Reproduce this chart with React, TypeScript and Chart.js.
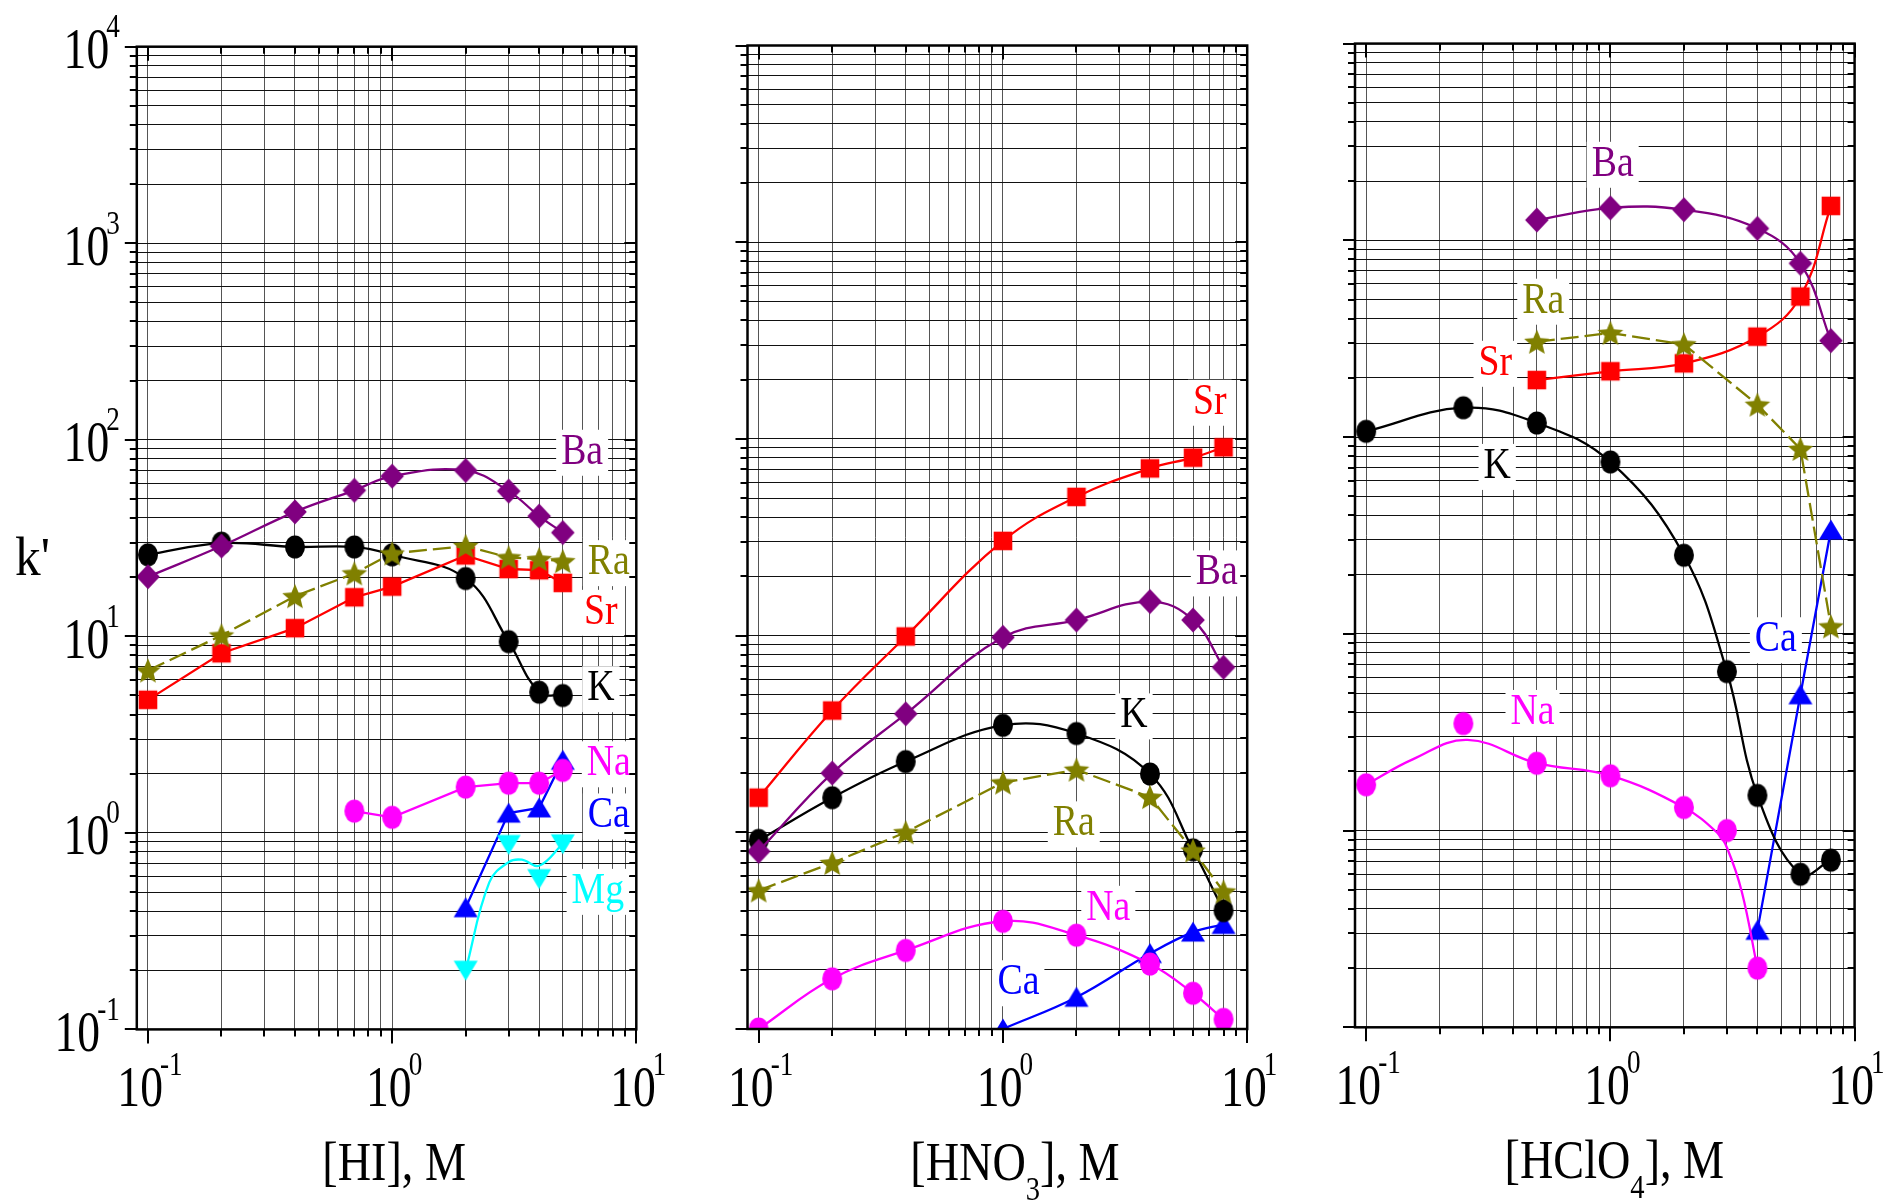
import React, { useEffect, useRef } from 'react';
import { Chart, registerables } from 'chart.js';

Chart.register(...registerables);

const W = 1889;
const H = 1202;

// ---------------- data : [HI] panel ----------------
const HI_X = [0.1, 0.2, 0.4, 0.7, 1, 2, 3, 4, 5];
const HI_BA = [20.1, 28.8, 43, 55.3, 65.3, 69.8, 54.8, 40.9, 33.7];
const HI_RA = [6.7, 10.1, 16.0, 20.9, 26.4, 28.8, 25.2, 24.7, 24.1];
const HI_SR = [4.75, 8.2, 11.0, 15.8, 17.9, 25.8, 22.0, 21.7, 18.7];
const HI_K = [26, 29.8, 28.5, 28.5, 26, 19.7, 9.4, 5.2, 5.0];
const HI_NA_X = [0.7, 1, 2, 3, 4, 5];
const HI_NA = [1.29, 1.2, 1.71, 1.79, 1.79, 2.08];
const HI_CA_X = [2, 3, 4, 5];
const HI_CA = [0.416, 1.26, 1.34, 2.34];
const HI_MG_X = [2, 3, 4, 5];
const HI_MG = [0.2, 0.873, 0.585, 0.88];
const HI_MG_FIT_X = [2, 2.5, 3, 3.4, 4, 5];
const HI_MG_FIT = [0.2, 0.56, 0.71, 0.73, 0.68, 0.88];
const HI_LABELS = ['Ba', 'Ra', 'Sr', 'K', 'Na', 'Ca', 'Mg'];
const HI_LABEL_X = [6.0, 7.72, 7.16, 7.16, 7.72, 7.72, 6.96];
const HI_LABEL_Y = [90, 24.7, 13.8, 5.64, 2.34, 1.27, 0.525];

// ---------------- data : [HNO3] panel ----------------
const NO3_X = [0.1, 0.2, 0.4, 1, 2, 4, 6, 8];
const NO3_SR = [1.5, 4.16, 9.9, 30.3, 50.7, 70.8, 80.3, 90.6];
const NO3_BA = [0.8, 2.0, 4.0, 9.8, 12.0, 14.9, 12.0, 6.9];
const NO3_K = [0.91, 1.5, 2.29, 3.5, 3.18, 1.98, 0.815, 0.4];
const NO3_RA = [0.506, 0.698, 1.0, 1.79, 2.08, 1.51, 0.807, 0.5];
const NO3_NA = [0.1, 0.18, 0.251, 0.353, 0.3, 0.214, 0.152, 0.112];
const NO3_CA_X = [1, 2, 4, 6, 8];
const NO3_CA = [0.1, 0.145, 0.242, 0.311, 0.34];
const NO3_LABELS = ['Sr', 'Ba', 'K', 'Ra', 'Na', 'Ca'];
const NO3_LABEL_X = [7.03, 7.51, 3.44, 1.95, 2.7, 1.157];
const NO3_LABEL_Y = [160, 21.7, 4.07, 1.15, 0.428, 0.179];

// ---------------- data : [HClO4] panel ----------------
const CLO4_K_X = [0.1, 0.25, 0.5, 1, 2, 3, 4, 6, 8];
const CLO4_K = [107, 141, 118, 74.8, 25.1, 6.43, 1.51, 0.6, 0.708];
const CLO4_X = [0.5, 1, 2, 4, 6, 8];
const CLO4_BA = [1268, 1462, 1431, 1149, 764, 309];
const CLO4_SR = [195, 216, 237, 324, 518, 1496];
const CLO4_RA = [305, 338, 296, 146, 87, 10.9];
const CLO4_CA_X = [4, 6, 8];
const CLO4_CA = [0.311, 4.9, 33.7];
const CLO4_NA_X = [0.1, 0.25, 0.5, 1, 2, 3, 4];
const CLO4_NA = [1.71, 3.5, 2.2, 1.9, 1.31, 1.0, 0.2];
const CLO4_NA_FIT_X = [0.1, 0.155, 0.26, 0.5, 1, 2, 2.75, 3, 3.45, 4];
const CLO4_NA_FIT = [1.71, 2.3, 2.89, 2.2, 1.9, 1.31, 0.97, 0.82, 0.49, 0.2];
const CLO4_LABELS = ['Ba', 'Ra', 'Sr', 'K', 'Ca', 'Na'];
const CLO4_LABEL_X = [1.022, 0.531, 0.338, 0.344, 4.76, 0.48];
const CLO4_LABEL_Y = [2537, 511, 247, 73.9, 9.72, 4.15];

// ---------------- axes ----------------
const X_MIN = 0.09;
const X_MAX = 10;
const Y_MIN = 0.1;
const Y_MAX = 10000;
const X_TICK_EXPONENTS = ['-1', '0', '1'];
const Y_TICK_EXPONENTS = ['-1', '0', '1', '2', '3', '4'];
const Y_AXIS_TITLE = "k'";

const COLORS: Record<string, string> = {
  K: '#000000',
  Ba: '#800080',
  Ra: '#808000',
  Sr: '#ff0000',
  Na: '#ff00ff',
  Ca: '#0000ff',
  Mg: '#00ffff',
};

const MARKERS: Record<string, string> = {
  K: 'circle',
  Ba: 'diamond',
  Ra: 'star',
  Sr: 'square',
  Na: 'circle',
  Ca: 'triUp',
  Mg: 'triDown',
};

function minorTicks(min: number, max: number): number[] {
  const out: number[] = [];
  for (let e = Math.floor(Math.log10(min)) - 1; e <= Math.ceil(Math.log10(max)); e++) {
    for (let m = 1; m <= 9; m++) {
      const v = parseFloat((m * Math.pow(10, e)).toPrecision(6));
      if (v >= min * 0.9999 && v <= max * 1.0001) out.push(v);
    }
  }
  return out;
}
const X_TICKS = minorTicks(0.1, X_MAX);
const Y_TICKS = minorTicks(Y_MIN, Y_MAX);
const isDecade = (v: number) => Math.abs(Math.log10(v) - Math.round(Math.log10(v))) < 1e-6;

const FONT = '"Liberation Serif", "Times New Roman", Times, serif';

function makeMarker(kind: string, color: string): HTMLCanvasElement {
  const c = document.createElement('canvas');
  const s = 32;
  c.width = s;
  c.height = s;
  const g = c.getContext('2d')!;
  g.fillStyle = color;
  const cx = s / 2;
  const cy = s / 2;
  g.beginPath();
  if (kind === 'circle') {
    g.ellipse(cx, cy, 10, 11.6, 0, 0, Math.PI * 2);
  } else if (kind === 'square') {
    g.rect(cx - 9.3, cy - 9.3, 18.6, 18.6);
  } else if (kind === 'diamond') {
    g.moveTo(cx, cy - 12.5);
    g.lineTo(cx + 11.8, cy);
    g.lineTo(cx, cy + 12.5);
    g.lineTo(cx - 11.8, cy);
    g.closePath();
  } else if (kind === 'triUp') {
    g.moveTo(cx, cy - 10.5);
    g.lineTo(cx + 12, cy + 9.5);
    g.lineTo(cx - 12, cy + 9.5);
    g.closePath();
  } else if (kind === 'triDown') {
    g.moveTo(cx, cy + 10.5);
    g.lineTo(cx + 12, cy - 9.5);
    g.lineTo(cx - 12, cy - 9.5);
    g.closePath();
  } else if (kind === 'star') {
    const dy = 1.2;
    for (let i = 0; i < 10; i++) {
      const r = i % 2 === 0 ? 13.5 : 6;
      const a = -Math.PI / 2 + (i * Math.PI) / 5;
      const px = cx + r * Math.cos(a);
      const py = cy + dy + r * Math.sin(a);
      if (i === 0) g.moveTo(px, py);
      else g.lineTo(px, py);
    }
    g.closePath();
  }
  g.fill();
  return c;
}

type SeriesDef = {
  name: string;
  xs: number[];
  ys: number[];
  smooth: boolean;
  dashed?: boolean;
  markers?: boolean;
  line?: boolean;
};

type PanelDef = {
  key: string;
  box: { left: number; right: number; top: number; bottom: number };
  yLabels: boolean;
  title: { t: string; sub: boolean }[];
  titleShift: number;
  series: SeriesDef[];
  labels: string[];
  labelX: number[];
  labelY: number[];
};

const PANELS: PanelDef[] = [
  {
    key: 'hi',
    box: { left: 136.8, right: 636.3, top: 46.7, bottom: 1029.4 },
    yLabels: true,
    title: [{ t: '[HI], M', sub: false }],
    titleShift: 2,
    series: [
      { name: 'Ra', xs: HI_X, ys: HI_RA, smooth: false, dashed: true },
      { name: 'Ba', xs: HI_X, ys: HI_BA, smooth: true },
      { name: 'Sr', xs: HI_X, ys: HI_SR, smooth: false },
      { name: 'Na', xs: HI_NA_X, ys: HI_NA, smooth: false },
      { name: 'K', xs: HI_X, ys: HI_K, smooth: true },
      { name: 'Mg', xs: HI_MG_X, ys: HI_MG, smooth: false, line: false },
      { name: 'Mg', xs: HI_MG_FIT_X, ys: HI_MG_FIT, smooth: true, markers: false },
      { name: 'Ca', xs: HI_CA_X, ys: HI_CA, smooth: false },
    ],
    labels: HI_LABELS,
    labelX: HI_LABEL_X,
    labelY: HI_LABEL_Y,
  },
  {
    key: 'hno3',
    box: { left: 747.5, right: 1247.2, top: 45.5, bottom: 1029.0 },
    yLabels: false,
    title: [
      { t: '[HNO', sub: false },
      { t: '3', sub: true },
      { t: '], M', sub: false },
    ],
    titleShift: 12,
    series: [
      { name: 'Ra', xs: NO3_X, ys: NO3_RA, smooth: false, dashed: true },
      { name: 'Ba', xs: NO3_X, ys: NO3_BA, smooth: true },
      { name: 'Sr', xs: NO3_X, ys: NO3_SR, smooth: true },
      { name: 'Na', xs: NO3_X, ys: NO3_NA, smooth: true },
      { name: 'K', xs: NO3_X, ys: NO3_K, smooth: true },
      { name: 'Ca', xs: NO3_CA_X, ys: NO3_CA, smooth: true },
    ],
    labels: NO3_LABELS,
    labelX: NO3_LABEL_X,
    labelY: NO3_LABEL_Y,
  },
  {
    key: 'hclo4',
    box: { left: 1355.0, right: 1854.6, top: 43.6, bottom: 1027.3 },
    yLabels: false,
    title: [
      { t: '[HClO', sub: false },
      { t: '4', sub: true },
      { t: '], M', sub: false },
    ],
    titleShift: 4,
    series: [
      { name: 'Ra', xs: CLO4_X, ys: CLO4_RA, smooth: false, dashed: true },
      { name: 'Ba', xs: CLO4_X, ys: CLO4_BA, smooth: true },
      { name: 'Sr', xs: CLO4_X, ys: CLO4_SR, smooth: true },
      { name: 'Na', xs: CLO4_NA_X, ys: CLO4_NA, smooth: false, line: false },
      { name: 'Na', xs: CLO4_NA_FIT_X, ys: CLO4_NA_FIT, smooth: true, markers: false },
      { name: 'K', xs: CLO4_K_X, ys: CLO4_K, smooth: true },
      { name: 'Ca', xs: CLO4_CA_X, ys: CLO4_CA, smooth: false },
    ],
    labels: CLO4_LABELS,
    labelX: CLO4_LABEL_X,
    labelY: CLO4_LABEL_Y,
  },
];

function setFont(ctx: CanvasRenderingContext2D, size: number) {
  ctx.font = `${size}px ${FONT}`;
}
function textW(ctx: CanvasRenderingContext2D, t: string, size: number, sx: number) {
  setFont(ctx, size);
  return ctx.measureText(t).width * sx;
}
function drawT(
  ctx: CanvasRenderingContext2D,
  t: string,
  x: number,
  y: number,
  size: number,
  sx: number,
  color: string
) {
  ctx.save();
  setFont(ctx, size);
  ctx.fillStyle = color;
  ctx.textAlign = 'left';
  ctx.textBaseline = 'alphabetic';
  ctx.translate(x, y);
  ctx.scale(sx, 1);
  ctx.fillText(t, 0, 0);
  ctx.restore();
}

const BIG = 57;
const BIG_SX = 0.8;
const SUP = 34;
const SUP_SX = 0.8;

function powerLabel(
  ctx: CanvasRenderingContext2D,
  exp: string,
  x: number,
  baseline: number,
  align: 'right' | 'center'
) {
  const wb = textW(ctx, '10', BIG, BIG_SX);
  const ws = textW(ctx, exp, SUP, SUP_SX);
  const gap = -3;
  const total = wb + gap + ws;
  const x0 = align === 'right' ? x - total : x - total / 2;
  drawT(ctx, '10', x0, baseline, BIG, BIG_SX, '#000');
  drawT(ctx, exp, x0 + wb + gap, baseline - 31, SUP, SUP_SX, '#000');
}

function makeDecor(p: PanelDef) {
  return {
    id: 'decor_' + p.key,
    beforeDatasetsDraw(chart: any) {
      const ctx: CanvasRenderingContext2D = chart.ctx;
      const xs = chart.scales.x;
      const ys = chart.scales.y;
      const a = chart.chartArea;
      ctx.save();
      ctx.beginPath();
      ctx.rect(a.left, a.top, a.right - a.left, a.bottom - a.top);
      ctx.clip();
      p.labels.forEach((name, i) => {
        const px = xs.getPixelForValue(p.labelX[i]);
        const py = ys.getPixelForValue(p.labelY[i]);
        const w = textW(ctx, name, 45, 0.84);
        ctx.fillStyle = '#ffffff';
        ctx.fillRect(px - w / 2 - 5, py - 19, w + 10, 46);
        drawT(ctx, name, px - w / 2, py + 15, 45, 0.84, COLORS[name]);
      });
      ctx.restore();
    },
    afterDraw(chart: any) {
      const ctx: CanvasRenderingContext2D = chart.ctx;
      const xs = chart.scales.x;
      const ys = chart.scales.y;
      const a = chart.chartArea;
      ctx.save();
      ctx.strokeStyle = '#000';
      ctx.lineWidth = 2.5;
      ctx.strokeRect(a.left, a.top, a.right - a.left, a.bottom - a.top);
      ctx.lineWidth = 2;
      ctx.beginPath();
      for (const v of X_TICKS) {
        const px = Math.round(xs.getPixelForValue(v));
        const l = isDecade(v) ? 14 : 7;
        ctx.moveTo(px, a.bottom);
        ctx.lineTo(px, a.bottom + l);
        ctx.moveTo(px, a.top);
        ctx.lineTo(px, a.top + l);
      }
      for (const v of Y_TICKS) {
        const py = Math.round(ys.getPixelForValue(v));
        const l = isDecade(v) ? 12 : 7;
        ctx.moveTo(a.left - l, py);
        ctx.lineTo(a.left, py);
        ctx.moveTo(a.right - l, py);
        ctx.lineTo(a.right, py);
      }
      ctx.stroke();

      // x tick labels
      for (const e of X_TICK_EXPONENTS) {
        const px = xs.getPixelForValue(Math.pow(10, parseFloat(e)));
        powerLabel(ctx, e, px + 2, a.bottom + 77, 'center');
      }
      // y tick labels
      if (p.yLabels) {
        for (const e of Y_TICK_EXPONENTS) {
          const py = ys.getPixelForValue(Math.pow(10, parseFloat(e)));
          powerLabel(ctx, e, a.left - 17, py + 21.6, 'right');
        }
        drawT(ctx, Y_AXIS_TITLE, 15, 575, 54, 0.95, '#000');
      }

      // axis title
      const TS = 55;
      const TSX = 0.84;
      const SS = 34;
      let total = 0;
      for (const part of p.title) total += textW(ctx, part.t, part.sub ? SS : TS, TSX);
      let x = xs.getPixelForValue(1) + p.titleShift - total / 2;
      const base = a.bottom + 151;
      for (const part of p.title) {
        const sz = part.sub ? SS : TS;
        drawT(ctx, part.t, x, part.sub ? base + 20 : base, sz, TSX, '#000');
        x += textW(ctx, part.t, sz, TSX);
      }
      ctx.restore();
    },
  };
}

function buildConfig(p: PanelDef): any {
  const datasets = p.series.map((s) => {
    const color = COLORS[s.name];
    const showMarkers = s.markers !== false;
    return {
      label: s.name,
      data: s.xs.map((x, i) => ({ x, y: s.ys[i] })),
      borderColor: color,
      backgroundColor: color,
      borderWidth: 2.3,
      borderDash: s.dashed ? [18, 6] : [],
      showLine: s.line !== false,
      tension: s.smooth ? 0.4 : 0,
      pointStyle: showMarkers ? makeMarker(MARKERS[s.name], color) : 'circle',
      pointRadius: showMarkers ? 11 : 0,
      pointHoverRadius: showMarkers ? 11 : 0,
      pointBorderWidth: 0,
      fill: false,
      clip: 0,
    };
  });
  const tickSetter = (vals: number[]) => (scale: any) => {
    scale.ticks = vals.map((v) => ({ value: v }));
  };
  return {
    type: 'line',
    data: { datasets },
    options: {
      responsive: false,
      animation: false,
      events: [],
      layout: {
        padding: {
          left: p.box.left,
          right: W - p.box.right,
          top: p.box.top,
          bottom: H - p.box.bottom,
        },
      },
      plugins: {
        legend: { display: false },
        tooltip: { enabled: false },
        title: { display: false },
      },
      scales: {
        x: {
          type: 'logarithmic',
          position: 'bottom',
          min: X_MIN,
          max: X_MAX,
          afterBuildTicks: tickSetter(X_TICKS),
          ticks: { display: false, callback: () => '' },
          grid: { color: '#555555', lineWidth: 1, drawTicks: false },
          border: { display: false },
        },
        y: {
          type: 'logarithmic',
          position: 'left',
          min: Y_MIN,
          max: Y_MAX,
          afterBuildTicks: tickSetter(Y_TICKS),
          ticks: { display: false, callback: () => '' },
          grid: { color: '#111111', lineWidth: 1, drawTicks: false },
          border: { display: false },
        },
      },
    },
    plugins: [makeDecor(p)],
  };
}

export default function App() {
  const r0 = useRef<HTMLCanvasElement>(null);
  const r1 = useRef<HTMLCanvasElement>(null);
  const r2 = useRef<HTMLCanvasElement>(null);
  useEffect(() => {
    document.body.style.margin = '0';
    document.body.style.overflow = 'hidden';
    const refs = [r0, r1, r2];
    const charts = PANELS.map((p, i) => new Chart(refs[i].current as HTMLCanvasElement, buildConfig(p)));
    return () => charts.forEach((c) => c.destroy());
  }, []);
  const refs = [r0, r1, r2];
  return (
    <div style={{ position: 'relative', width: W, height: H, background: '#ffffff', overflow: 'hidden' }}>
      {PANELS.map((p, i) => (
        <canvas
          key={p.key}
          ref={refs[i]}
          width={W}
          height={H}
          style={{ position: 'absolute', left: 0, top: 0, width: W, height: H }}
        />
      ))}
    </div>
  );
}
